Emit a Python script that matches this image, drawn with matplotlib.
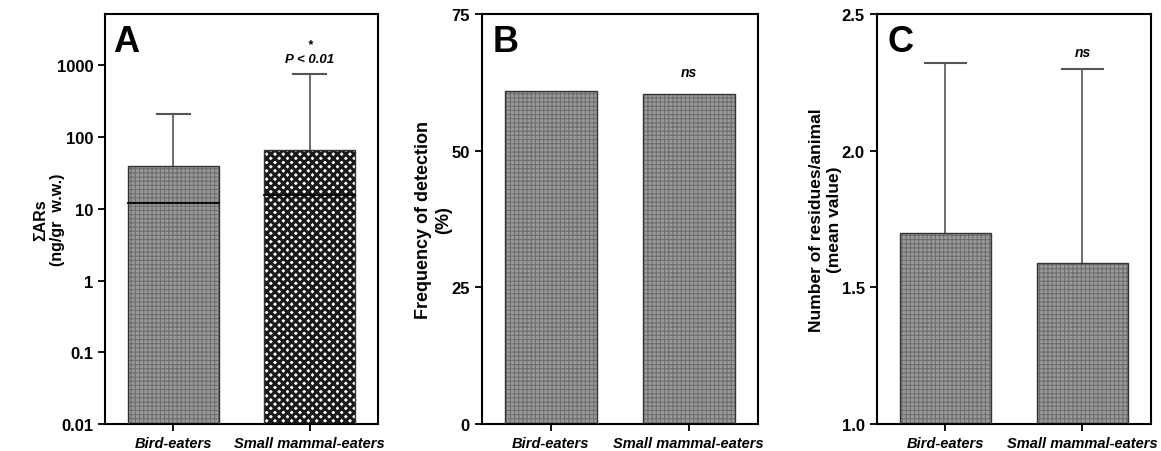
import matplotlib
matplotlib.use("Agg")
import matplotlib.pyplot as plt
import numpy as np

plt.rcParams['font.family'] = ['Liberation Sans', 'DejaVu Sans']
plt.rcParams['font.weight'] = 'bold'

categories = ["Bird-eaters", "Small mammal-eaters"]

# Panel A (log scale)
a_means = [39, 66]
a_medians = [12, 15.5]
a_err_top = [210, 760]
# Panel B
b_freq = [60.9, 60.4]
# Panel C
c_means = [1.70, 1.59]
c_err_top = [2.32, 2.30]

fig = plt.figure(figsize=(11.61, 4.52), dpi=100)
bottom, top = 0.0597, 0.9668
axA = fig.add_axes([0.0904, bottom, 0.3256 - 0.0904, top - bottom])
axB = fig.add_axes([0.4149, bottom, 0.6526 - 0.4149, top - bottom])
axC = fig.add_axes([0.7551, bottom, 0.9914 - 0.7551, top - bottom])

x = np.arange(len(categories))
bw = 0.667
fine_face = '#9a9a9a'
fine_hatch = '#6e6e6e'


def draw_bars(ax, vals, faces, hatches, hatchcols, hlw, base):
    for xi, v, fc, h, hc, lw in zip(x, vals, faces, hatches, hatchcols, hlw):
        plt.rcParams['hatch.linewidth'] = lw
        ax.bar(xi, v - base, bottom=base, width=bw, color=fc, hatch=h,
               edgecolor=hc, linewidth=0, zorder=2)
        ax.bar(xi, v - base, bottom=base, width=bw, fill=False,
               edgecolor='#333333', linewidth=1.0, zorder=3)


def errs(ax, means, tops, cap):
    for xi, m, t in zip(x, means, tops):
        ax.plot([xi, xi], [m, t], color='#555555', lw=1.2, zorder=1)
        ax.plot([xi - cap, xi + cap], [t, t], color='#555555', lw=1.5, zorder=1)


def style(ax):
    for s in ax.spines.values():
        s.set_linewidth(1.5)
    ax.tick_params(axis='both', direction='out', length=5, width=1.3,
                   labelsize=12)
    ax.set_xticks(x)
    ax.set_xticklabels(categories, fontstyle='italic', fontweight='bold',
                       fontsize=10.5)
    ax.set_xlim(-0.5, 1.5)
    for lab in ax.get_yticklabels():
        lab.set_fontweight('bold')


# Panel A
axA.set_yscale('log')
axA.set_ylim(0.01, 5200)
errs(axA, a_means, a_err_top, 0.12)
draw_bars(axA, a_means, [fine_face, 'white'], ['++++', 'xxxx'],
          [fine_hatch, '#1a1a1a'], [0.8, 2.2], 0.01)
for xi, md in zip(x, a_medians):
    axA.plot([xi - bw / 2, xi + bw / 2], [md, md], color='black', lw=1.3, zorder=4)
axA.set_yticks([0.01, 0.1, 1, 10, 100, 1000])
axA.set_yticklabels(['0.01', '0.1', '1', '10', '100', '1000'])
axA.yaxis.set_minor_locator(matplotlib.ticker.NullLocator())
style(axA)
axA.set_ylabel('ΣARs\n(ng/gr  w.w.)', fontsize=11.5, fontweight='bold')
axA.yaxis.set_label_coords(-0.145, 0.5)
axA.text(1, 2000, '*', ha='center', va='center', fontsize=9, fontstyle='italic', fontweight='bold')
axA.text(1, 1220, 'P < 0.01', ha='center', va='center', fontsize=9.5, fontstyle='italic', fontweight='bold')
axA.text(0.03, 0.975, 'A', transform=axA.transAxes, ha='left', va='top', fontsize=26, fontweight='bold')

# Panel B
axB.set_ylim(0, 75)
draw_bars(axB, b_freq, [fine_face, fine_face], ['++++', '++++'],
          [fine_hatch, fine_hatch], [0.8, 0.8], 0)
axB.set_yticks([0, 25, 50, 75])
style(axB)
axB.set_ylabel('Frequency of detection\n(%)', fontsize=13, fontweight='bold')
axB.yaxis.set_label_coords(-0.108, 0.5)
axB.text(1, 64.4, 'ns', ha='center', va='center', fontsize=10, fontstyle='italic', fontweight='bold')
axB.text(0.04, 0.975, 'B', transform=axB.transAxes, ha='left', va='top', fontsize=26, fontweight='bold')

# Panel C
axC.set_ylim(1.0, 2.5)
errs(axC, c_means, c_err_top, 0.15)
draw_bars(axC, c_means, [fine_face, fine_face], ['++++', '++++'],
          [fine_hatch, fine_hatch], [0.8, 0.8], 1.0)
axC.set_yticks([1.0, 1.5, 2.0, 2.5])
axC.set_yticklabels(['1.0', '1.5', '2.0', '2.5'])
style(axC)
axC.set_ylabel('Number of residues/animal\n(mean value)', fontsize=12.5, fontweight='bold')
axC.yaxis.set_label_coords(-0.127, 0.5)
axC.text(1, 2.36, 'ns', ha='center', va='center', fontsize=10, fontstyle='italic', fontweight='bold')
axC.text(0.04, 0.975, 'C', transform=axC.transAxes, ha='left', va='top', fontsize=26, fontweight='bold')

fig.savefig('out.png', dpi=100)
